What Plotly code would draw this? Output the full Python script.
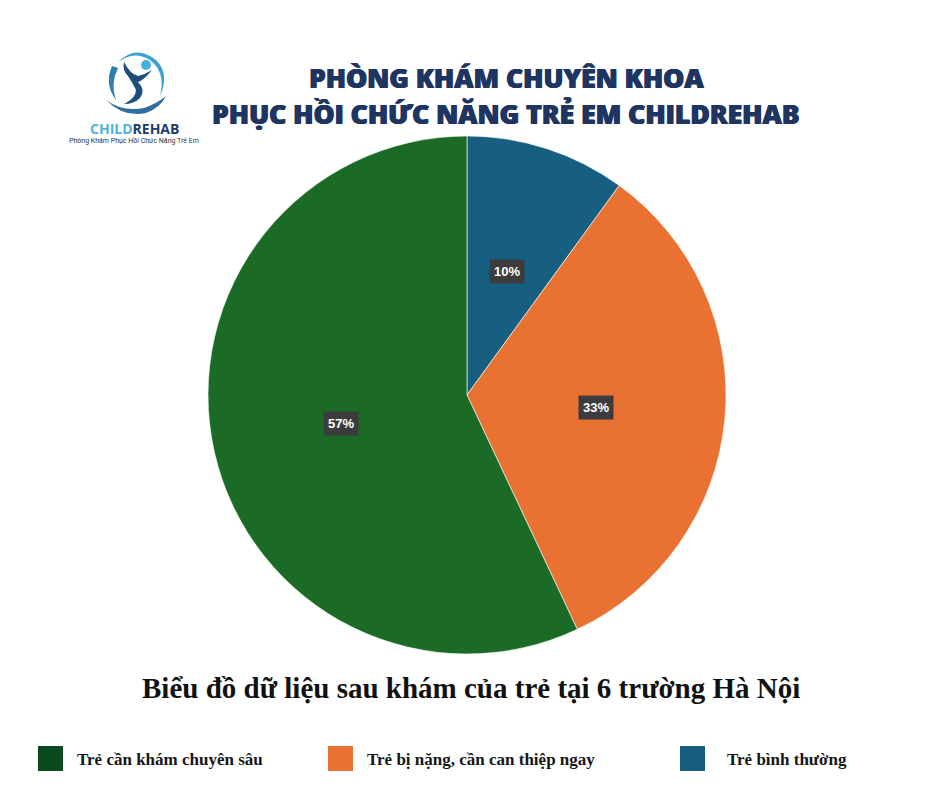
import math
import plotly.graph_objects as go

# Pie data
categories = ["Trẻ bình thường", "Trẻ bị nặng, cần can thiệp ngay", "Trẻ cần khám chuyên sâu"]
values = [10, 33, 57]
slice_colors = ["#165f80", "#e97131", "#1b6b27"]

# Legend (left to right)
legend_labels = ["Trẻ cần khám chuyên sâu", "Trẻ bị nặng, cần can thiệp ngay", "Trẻ bình thường"]
legend_colors = ["#0a4a1e", "#e97131", "#165f80"]
legend_x = [38, 328, 680]
legend_text_x = [75, 365, 725]

title_lines = ["PHÒNG KHÁM CHUYÊN KHOA", "PHỤC HỒI CHỨC NĂNG TRẺ EM CHILDREHAB"]
subtitle = "Biểu đồ dữ liệu sau khám của trẻ tại 6 trường Hà Nội"

W, H = 940, 788
cx, cy, R = 467, 395, 259

fig = go.Figure()

fig.add_trace(go.Pie(
    labels=categories,
    values=values,
    marker=dict(colors=slice_colors, line=dict(color="rgba(255,255,255,0.6)", width=1)),
    sort=False,
    direction="clockwise",
    rotation=0,
    textinfo="none",
    hoverinfo="label+percent",
    showlegend=False,
    domain=dict(x=[(cx - R) / W, (cx + R) / W], y=[1 - (cy + R) / H, 1 - (cy - R) / H]),
))

# Percentage labels at half radius of each slice
total = sum(values)
start = 0.0
annotations = []
for v in values:
    frac = v / total
    mid = (start + frac / 2) * 2 * math.pi
    start += frac
    px = cx + 0.5 * R * math.sin(mid)
    py = cy - 0.5 * R * math.cos(mid)
    annotations.append(dict(
        x=px, y=py, xref="x", yref="y",
        text=f"<b>{round(frac * 100)}%</b>", showarrow=False,
        font=dict(family="Liberation Sans, Arial", size=13, color="white"),
        bgcolor="#3c3c3e", borderpad=4,
    ))

# Title
for i, line in enumerate(title_lines):
    annotations.append(dict(
        x=506, y=78 + i * 36, xref="x", yref="y", text=line, showarrow=False,
        font=dict(family="Open Sans", size=26.5, color="#1e3461", weight=800,
                  shadow="0.6px 0 0 #1e3461, -0.6px 0 0 #1e3461"),
    ))

# Subtitle
annotations.append(dict(
    x=471, y=688, xref="x", yref="y", text=f"<b>{subtitle}</b>", showarrow=False,
    font=dict(family="Liberation Serif", size=29, color="#111111"),
))

# Legend
shapes = []
for lx, tx, lab, col in zip(legend_x, legend_text_x, legend_labels, legend_colors):
    shapes.append(dict(type="rect", xref="x", yref="y", x0=lx, x1=lx + 25, y0=746, y1=771,
                       fillcolor=col, line=dict(width=0), layer="above"))
    annotations.append(dict(
        x=tx, y=759, xref="x", yref="y", xanchor="left", text=f"<b>{lab}</b>", showarrow=False,
        font=dict(family="Liberation Serif", size=17, color="#161616"),
    ))

# Logo emblem
shapes += [
    # outer ring
    dict(type="path", xref="x", yref="y",
         path="M 118 62 Q 136 44 156 60 Q 170 74 160 96 Q 166 72 150 60 Q 134 50 118 62 Z",
         fillcolor="#3aa3cf", line=dict(width=0)),
    dict(type="path", xref="x", yref="y",
         path="M 112 66 Q 104 84 116 100 Q 110 84 118 68 Z",
         fillcolor="#2d7fb0", line=dict(width=0)),
    # head
    dict(type="circle", xref="x", yref="y", x0=141, x1=151, y0=60, y1=70,
         fillcolor="#45b3dc", line=dict(width=0)),
    # arms / body swoosh
    dict(type="path", xref="x", yref="y",
         path="M 124 62 Q 130 74 138 76 Q 146 74 152 70 Q 144 80 138 82 Q 146 90 140 98 Q 134 104 124 104 Q 136 98 136 90 Q 132 82 128 76 Q 122 70 124 62 Z",
         fillcolor="#1c4f7d", line=dict(width=0)),
    # hand
    dict(type="path", xref="x", yref="y",
         path="M 106 100 Q 122 112 144 108 Q 156 104 166 96 Q 160 108 146 113 Q 124 118 106 100 Z",
         fillcolor="#2f6f9f", line=dict(width=0)),
]
annotations.append(dict(
    x=134, y=128, xref="x", yref="y", showarrow=False,
    text="<b><span style='color:#4fb3d9'>CHILD</span><span style='color:#1e3d6b'>REHAB</span></b>",
    font=dict(family="Open Sans", size=14, weight=800),
))
annotations.append(dict(
    x=134, y=141, xref="x", yref="y", showarrow=False,
    text="Phòng Khám Phục Hồi Chức Năng Trẻ Em",
    font=dict(family="Roboto", size=7, color="#333333"),
))

fig.update_layout(
    width=W, height=H,
    margin=dict(l=0, r=0, t=0, b=0),
    paper_bgcolor="white", plot_bgcolor="white",
    xaxis=dict(range=[0, W], visible=False, domain=[0, 1], fixedrange=True),
    yaxis=dict(range=[H, 0], visible=False, domain=[0, 1], fixedrange=True),
    shapes=shapes,
    annotations=annotations,
    showlegend=False,
)

fig.write_html("out.html")
